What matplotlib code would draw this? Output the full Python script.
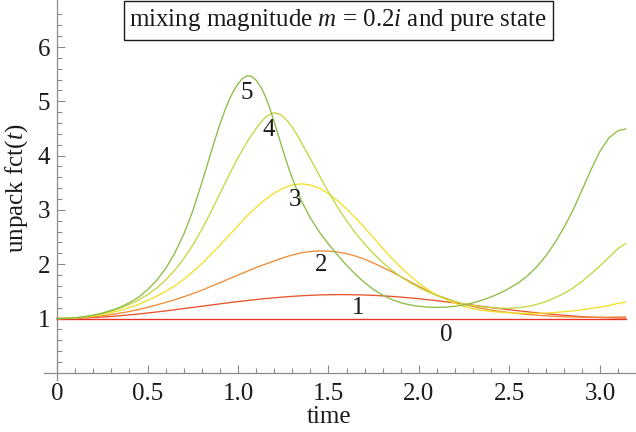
import numpy as np
import matplotlib.pyplot as plt
from matplotlib.ticker import FixedLocator
from matplotlib.patches import Rectangle

plt.rcParams['font.family'] = ['Liberation Serif', 'DejaVu Serif']
plt.rcParams['mathtext.fontset'] = 'custom'
plt.rcParams['mathtext.rm'] = 'Liberation Serif'
plt.rcParams['mathtext.it'] = 'Liberation Serif:italic'

PI = np.pi

# tiempos de muestreo: cada 0.05 hasta 3.10, luego pi
t = [round(0.05 * i, 2) for i in range(63)] + [PI]

# curva 0 : estado puro, constante
v0 = [1.0] * len(t)

# curva 1
v1 = [1.000, 1.001, 1.004, 1.010, 1.017, 1.027, 1.038, 1.052, 1.067, 1.083,
      1.101, 1.120, 1.140, 1.161, 1.183, 1.204, 1.226, 1.248, 1.270, 1.291,
      1.312, 1.331, 1.349, 1.367, 1.382, 1.396, 1.408, 1.419, 1.427, 1.434,
      1.438, 1.440, 1.440, 1.437, 1.433, 1.426, 1.417, 1.407, 1.394, 1.380,
      1.364, 1.346, 1.328, 1.308, 1.287, 1.266, 1.245, 1.223, 1.201, 1.181,
      1.161, 1.142, 1.124, 1.105, 1.089, 1.074, 1.060, 1.047, 1.035, 1.026,
      1.019, 1.014, 1.011, 1.010]

# curva 2
v2 = [1.000, 1.002, 1.008, 1.018, 1.032, 1.050, 1.072, 1.100, 1.130, 1.165,
      1.205, 1.250, 1.295, 1.345, 1.400, 1.460, 1.520, 1.590, 1.660, 1.730,
      1.800, 1.870, 1.940, 2.000, 2.060, 2.120, 2.170, 2.210, 2.235, 2.245,
      2.240, 2.225, 2.195, 2.150, 2.090, 2.020, 1.940, 1.860, 1.770, 1.680,
      1.590, 1.510, 1.430, 1.370, 1.310, 1.260, 1.220, 1.185, 1.155, 1.130,
      1.110, 1.090, 1.075, 1.060, 1.050, 1.040, 1.033, 1.028, 1.025, 1.023,
      1.023, 1.025, 1.028, 1.030]

# curva 3
v3 = [1.000, 1.003, 1.012, 1.027, 1.048, 1.075, 1.110, 1.150, 1.200, 1.260,
      1.330, 1.410, 1.500, 1.600, 1.720, 1.860, 2.010, 2.180, 2.350, 2.530,
      2.710, 2.890, 3.050, 3.190, 3.310, 3.400, 3.460, 3.480, 3.460, 3.400,
      3.300, 3.170, 3.020, 2.850, 2.670, 2.480, 2.290, 2.110, 1.940, 1.790,
      1.650, 1.530, 1.430, 1.350, 1.280, 1.220, 1.180, 1.150, 1.130, 1.115,
      1.105, 1.100, 1.095, 1.095, 1.100, 1.110, 1.125, 1.140, 1.160, 1.185,
      1.210, 1.240, 1.280, 1.300]

# curva 4 (mas puntos cerca del maximo)
t4 = ([round(0.05 * i, 2) for i in range(20)]
      + [round(1.0 + 0.025 * i, 3) for i in range(17)]
      + [round(0.05 * i, 2) for i in range(29, 63)] + [PI])
v4 = [1.000, 1.003, 1.013, 1.030, 1.055, 1.090, 1.135, 1.190, 1.260, 1.340,
      1.440, 1.560, 1.710, 1.890, 2.100, 2.350, 2.640, 2.960, 3.300, 3.640,
      3.960, 4.110, 4.250, 4.380, 4.500, 4.610, 4.700, 4.760, 4.790, 4.770,
      4.720, 4.630, 4.520, 4.390, 4.240, 4.090, 3.940,
      3.630, 3.330, 3.050, 2.800, 2.570, 2.370, 2.190, 2.030, 1.890, 1.770,
      1.660, 1.570, 1.490, 1.420, 1.360, 1.310, 1.270, 1.240, 1.215, 1.200,
      1.190, 1.190, 1.200, 1.220, 1.260, 1.310, 1.380, 1.460, 1.560, 1.680,
      1.820, 1.970, 2.130, 2.290, 2.380]

# curva 5 (mas puntos cerca del maximo)
t5 = ([round(0.05 * i, 2) for i in range(16)]
      + [round(0.8 + 0.025 * i, 3) for i in range(21)]
      + [round(0.05 * i, 2) for i in range(27, 63)] + [PI])
v5 = [1.000, 1.004, 1.015, 1.035, 1.063, 1.100, 1.150, 1.210, 1.290, 1.390,
      1.530, 1.700, 1.920, 2.200, 2.550, 2.980,
      3.500, 3.770, 4.050, 4.320, 4.580, 4.810, 5.020, 5.190, 5.320, 5.420,
      5.470, 5.460, 5.390, 5.270, 5.100, 4.880, 4.620, 4.350, 4.080, 3.820,
      3.580,
      3.170, 2.850, 2.590, 2.370, 2.170, 1.980, 1.810, 1.660, 1.530, 1.430,
      1.350, 1.290, 1.250, 1.225, 1.210, 1.205, 1.210, 1.225, 1.250, 1.290,
      1.340, 1.400, 1.470, 1.560, 1.660, 1.790, 1.950, 2.150, 2.390, 2.670,
      2.990, 3.360, 3.740, 4.080, 4.330, 4.460, 4.490]

curvas = [(t, v0), (t, v1), (t, v2), (t, v3), (t4, v4), (t5, v5)]
colores = ['#e53127', '#e8552c', '#ee8d35', '#f1e02a', '#c3d740', '#8dbc45']

# etiquetas de cada curva (posicion en datos)
etiquetas = ['0', '1', '2', '3', '4', '5']
pos_etiquetas = [(2.15, 0.70), (1.665, 1.19), (1.462, 1.99), (1.315, 3.18),
                 (1.168, 4.47), (1.048, 5.15)]

xticks = [0, 0.5, 1.0, 1.5, 2.0, 2.5, 3.0]
xticklabels = ['0', '0.5', '1.0', '1.5', '2.0', '2.5', '3.0']
yticks = [1, 2, 3, 4, 5, 6]

W, H = 636, 432
fig = plt.figure(figsize=(W / 100, H / 100), dpi=100)
ax = fig.add_axes([0, 0, 1, 1])

for (tt, vv), col in zip(curvas, colores):
    ax.plot(tt, vv, color=col, lw=0.95)

for txt, (x, y) in zip(etiquetas, pos_etiquetas):
    ax.text(x, y, txt, ha='center', va='center', fontsize=18, color='#1a1a1a')

# ejes estilo Mathematica: cruzan en el origen
ax.set_xlim(-0.315, 3.199)
ax.set_ylim(-1.09, 6.866)
ax.spines['top'].set_visible(False)
ax.spines['right'].set_visible(False)
ax.spines['left'].set_position(('data', 0))
ax.spines['bottom'].set_position(('data', 0))
ax.spines['left'].set_bounds(-0.14, 6.866)
ax.spines['bottom'].set_bounds(-0.07, 3.199)
gris = '#8a8a8a'
for s in ['left', 'bottom']:
    ax.spines[s].set_color(gris)
    ax.spines[s].set_linewidth(0.9)

ax.set_xticks(xticks)
ax.set_xticklabels(xticklabels)
ax.xaxis.set_minor_locator(FixedLocator([i * 0.1 for i in range(1, 32) if i % 5]))
ax.set_yticks(yticks)
ax.yaxis.set_minor_locator(FixedLocator([k * 0.2 for k in range(1, 34) if k % 5]))
ax.tick_params(which='both', direction='in', color=gris, width=0.8,
               labelcolor='#1a1a1a', labelsize=18)
ax.tick_params(which='major', length=6)
ax.tick_params(which='minor', length=3.5)
ax.tick_params(axis='x', pad=7)
ax.tick_params(axis='y', pad=5)

fig.text(329 / W, 1 - 417 / H, 'time', ha='center', va='center', fontsize=18, color='#1a1a1a')
fig.text(17 / W, 1 - 188 / H, 'unpack fct($t$)', ha='center', va='center',
         rotation=90, fontsize=18, color='#1a1a1a')

# titulo en recuadro
fig.patches.append(Rectangle((123.5 / W, 1 - 40 / H), (553 - 123.5) / W, 39 / H,
                             transform=fig.transFigure, fill=True, fc='white',
                             ec='#1a1a1a', lw=1.0))
fig.text(338 / W, 1 - 20 / H, 'mixing magnitude $m$ = 0.2$i$ and pure state',
         ha='center', va='center', fontsize=18, color='#1a1a1a')

fig.savefig('out.png', dpi=100)
